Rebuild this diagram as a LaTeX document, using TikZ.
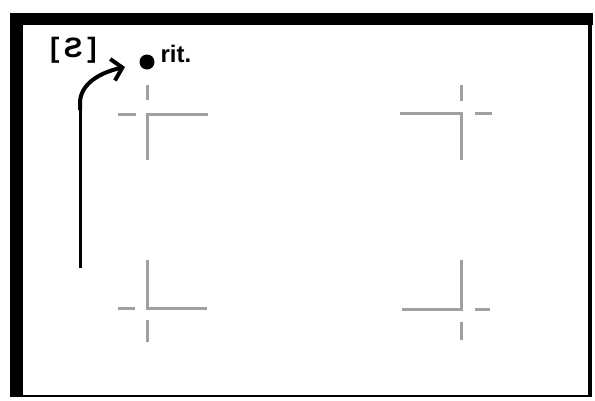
\documentclass[tikz,border=0pt]{standalone}
\usepackage{fontspec}
\setmainfont{Liberation Sans}
\usetikzlibrary{arrows.meta}
\definecolor{markgray}{HTML}{A0A0A0}
\begin{document}
\begin{tikzpicture}[x=1pt,y=-1pt,
  framebar/.style={fill=black},
  cropmark/.style={draw=markgray,line width=3pt},
  lbl/.style={inner sep=0pt,outer sep=0pt,font=\bfseries\fontsize{24}{26}\selectfont,anchor=base west},
  blbl/.style={inner sep=0pt,outer sep=0pt,font=\bfseries\fontsize{28}{30}\selectfont,anchor=base west},
  dotnode/.style={circle,fill=black,inner sep=0pt,minimum size=15pt}]
\useasboundingbox (0,0) rectangle (595,400);
\fill[white] (0,0) rectangle (595,400);
% frame
\fill[framebar] (10,12.5) rectangle (593,25);
\fill[framebar] (10,12.5) rectangle (22.5,397);
\fill[framebar] (588,25) rectangle (591.5,397);
\fill[framebar] (10,394.5) rectangle (591.5,397);
% crop marks
\draw[cropmark] (208,114) -- (147,114) -- (147,160);
\draw[cropmark] (147,85) -- (147,100);
\draw[cropmark] (118,114) -- (136,114);
\draw[cropmark] (400,113) -- (461,113) -- (461,160);
\draw[cropmark] (461,85) -- (461,101);
\draw[cropmark] (475,113) -- (492,113);
\draw[cropmark] (147,260) -- (147,308) -- (207,308);
\draw[cropmark] (118,308) -- (135,308);
\draw[cropmark] (147,320) -- (147,342);
\draw[cropmark] (461,260) -- (461,309) -- (402,309);
\draw[cropmark] (475,309) -- (490,309);
\draw[cropmark] (461,322) -- (461,340);
% labels and dot
\node[dotnode] (dot) at (147,62) {};
\node[lbl] (rit) at (160.5,62) {rit.};
\node[blbl] (sym) at (50,57) {[\,Ƨ\,]};
% arrow
\coordinate (a0) at (80,268);
\coordinate (a1) at (80,103);
\coordinate (a2) at (125,67);
\draw[line width=3pt] (a0) -- (a1);
\draw[line width=4pt,-{Straight Barb[length=10pt,width=22pt]}] (80,110) -- (a1) .. controls (80,85) and (98,73) .. (a2);
\end{tikzpicture}
\end{document}
